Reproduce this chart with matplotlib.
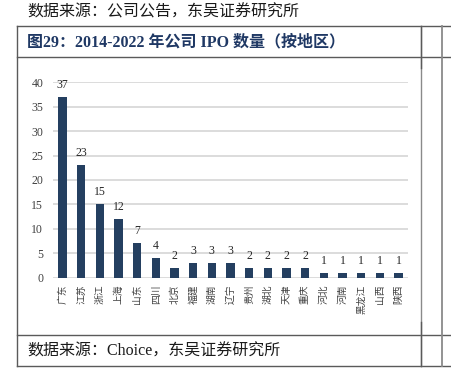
import matplotlib.pyplot as plt
from matplotlib.lines import Line2D
import numpy as np

regions = ['广东', '江苏', '浙江', '上海', '山东', '四川', '北京', '福建', '湖南', '辽宁',
           '贵州', '湖北', '天津', '重庆', '河北', '河南', '黑龙江', '山西', '陕西']
ipo_counts = [37, 23, 15, 12, 7, 4, 2, 3, 3, 3, 2, 2, 2, 2, 1, 1, 1, 1, 1]
y_ticks = [0, 5, 10, 15, 20, 25, 30, 35, 40]

title_text = '图29：2014-2022 年公司 IPO 数量（按地区）'
top_note = '数据来源：公司公告，东吴证券研究所'
bottom_note = '数据来源：Choice，东吴证券研究所'

W, H = 452, 378
MIX = ['Liberation Serif', 'Noto Sans CJK SC']
CJK = ['Noto Sans CJK SC', 'DejaVu Sans']
bar_color = '#243F60'
line_color = '#5a5a5a'

fig = plt.figure(figsize=(W / 100, H / 100), dpi=100)
fig.patch.set_facecolor('white')

def px(x, y):
    # pixel coords (from top-left) -> figure fraction
    return x / W, 1 - y / H

def hline(y, x0, x1, c=line_color, lw=1.0):
    a, b = px(x0, y)
    c2, _ = px(x1, y)
    fig.add_artist(Line2D([a, c2], [b, b], color=c, lw=lw, transform=fig.transFigure))

def vline(x, y0, y1, c=line_color, lw=1.0):
    a, b = px(x, y0)
    _, d = px(x, y1)
    fig.add_artist(Line2D([a, a], [b, d], color=c, lw=lw, transform=fig.transFigure))

# table frame
for yy in [26, 57, 335, 366]:
    hline(yy, 17, 452)
vline(17, 26, 366)
vline(421, 26, 366, c='#8a8a8a')
vline(421, 26, 68)
vline(421, 322, 366)
vline(442, 26, 366, c='#8a8a8a', lw=1.3)

# texts
x, y = px(27, 12)
fig.text(x, y, top_note, family=MIX, fontsize=11.5, color='#1a1a1a', va='center', ha='left')
x, y = px(27, 42)
fig.text(x, y, title_text, family=MIX, fontsize=11.5, fontweight='bold', color='#1F3864',
         va='center', ha='left')
x, y = px(27, 352)
fig.text(x, y, bottom_note, family=MIX, fontsize=11.5, color='#1a1a1a', va='center', ha='left')

# chart
left, top = px(53, 82.3)
right, bottom = px(408, 277.5)
ax = fig.add_axes([left, bottom, right - left, top - bottom])
xpos = np.arange(len(regions))
ax.bar(xpos, ipo_counts, width=0.45, color=bar_color, zorder=3)
for xi, v in zip(xpos, ipo_counts):
    ax.text(xi, v + 1.2, str(v), ha='center', va='bottom', family=MIX, fontsize=8.5,
            color='#262626')
ax.set_xlim(-0.5, len(regions) - 0.5)
ax.set_ylim(0, 40)
ax.set_yticks(y_ticks)
ax.set_yticklabels([str(t) for t in y_ticks], family=MIX, fontsize=8.5, color='#404040')
ax.set_xticks(xpos)
ax.set_xticklabels(regions, rotation=90, family=CJK, fontsize=7, color='#404040')
ax.tick_params(axis='both', length=0)
ax.tick_params(axis='y', pad=7)
ax.tick_params(axis='x', pad=5)
ax.grid(axis='y', color='#D9D9D9', lw=1.3, zorder=0)
for s in ax.spines.values():
    s.set_visible(False)
ax.set_facecolor('none')

fig.savefig('out.png', dpi=100)
